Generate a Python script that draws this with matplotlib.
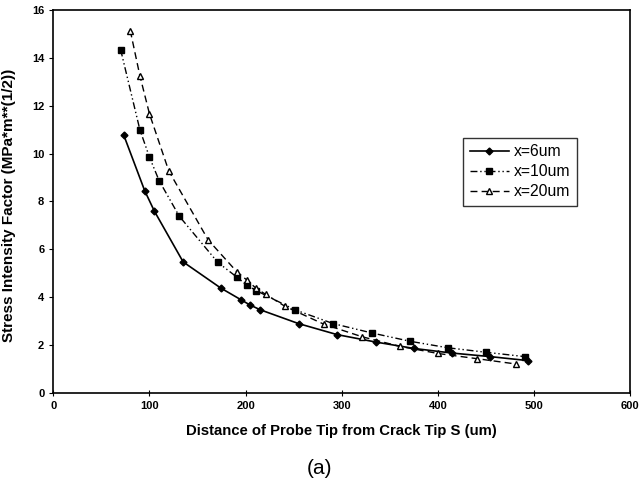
import numpy as np
import matplotlib
matplotlib.use("Agg")
import matplotlib.pyplot as plt

plt.rcParams["font.family"] = ["Liberation Sans", "DejaVu Sans"]

# distance S (um) and stress intensity factor
s_6um = [73, 95, 105, 135, 174, 195, 204, 215, 255, 295, 335, 375, 414, 454, 494]
k_6um = [10.8, 8.45, 7.6, 5.47, 4.38, 3.89, 3.68, 3.47, 2.89, 2.43, 2.12, 1.85, 1.66, 1.51, 1.34]

s_10um = [70, 90, 100, 110, 131, 171, 191, 201, 211, 251, 291, 331, 371, 410, 450, 490]
k_10um = [14.35, 11.0, 9.85, 8.87, 7.38, 5.45, 4.83, 4.5, 4.27, 3.47, 2.89, 2.5, 2.15, 1.88, 1.69, 1.51]

s_20um = [80, 90, 100, 120, 161, 191, 201, 211, 221, 241, 281, 321, 360, 400, 441, 481]
k_20um = [15.15, 13.26, 11.66, 9.28, 6.39, 5.05, 4.72, 4.36, 4.11, 3.61, 2.87, 2.34, 1.94, 1.64, 1.42, 1.2]

fig = plt.figure(figsize=(6.4, 4.86), dpi=100)
ax = fig.add_axes([0.0833, 0.192, 0.9017, 0.787])

ax.plot(s_6um, k_6um, color="black", lw=1.2, ls="-", marker="D", ms=3.5,
        label="x=6um")
ax.plot(s_10um, k_10um, color="black", lw=1.0, ls=(0, (5, 2, 1, 2, 1, 2)),
        marker="s", ms=5, label="x=10um")
ax.plot(s_20um, k_20um, color="black", lw=1.0, ls=(0, (5, 3)), marker="^",
        ms=5, mfc="white", mew=1.0, label="x=20um")

ax.set_xlim(0, 600)
ax.set_ylim(0, 16)
ax.set_xticks(np.arange(0, 601, 100))
ax.set_yticks(np.arange(0, 17, 2))
ax.tick_params(axis="both", labelsize=8, length=3, width=0.8)
ax.tick_params(axis="x", direction="inout", length=5)
for lbl in ax.get_xticklabels() + ax.get_yticklabels():
    lbl.set_fontweight("bold")
for sp in ax.spines.values():
    sp.set_linewidth(1.2)

ax.set_xlabel("Distance of Probe Tip from Crack Tip S (um)", fontsize=10.7,
              fontweight="bold", labelpad=9)
ax.set_ylabel("Stress Intensity Factor (MPa*m**(1/2))", fontsize=11,
              fontweight="bold")
ax.yaxis.set_label_coords(-0.065, 0.49)

leg = ax.legend(loc="upper left", bbox_to_anchor=(0.71, 0.667), fontsize=11.3,
                frameon=True, fancybox=False, edgecolor="black",
                handlelength=2.5, handletextpad=0.3, borderpad=0.42,
                labelspacing=0.32, borderaxespad=0)
leg.get_frame().set_linewidth(1.0)

fig.text(0.5, 0.037, "(a)", ha="center", va="center", fontsize=15)

fig.savefig("out.png", dpi=100)
